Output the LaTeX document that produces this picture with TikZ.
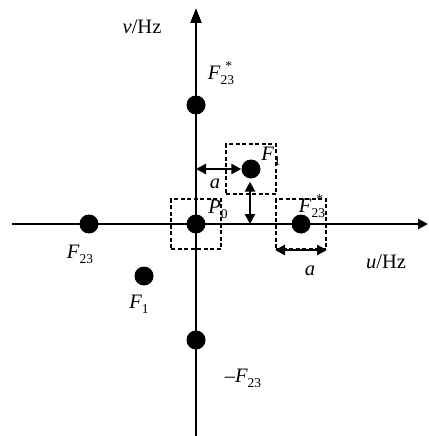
\documentclass[tikz,border=0pt]{standalone}
\usepackage{fontspec}
\setmainfont{Liberation Serif}
\usetikzlibrary{arrows.meta}
\newcommand{\lsub}[1]{\raisebox{-0.55ex}{\fontsize{13.5}{13.5}\selectfont #1}}
\newcommand{\lsubsup}[2]{\makebox[0pt][l]{\raisebox{1.0ex}{\fontsize{13.5}{13.5}\selectfont\hspace{0.35em}#2}}\raisebox{-0.55ex}{\fontsize{13.5}{13.5}\selectfont #1}}
\tikzset{
  axis/.style={line width=2.5pt},
  dot/.style={circle,fill=black,inner sep=0pt,minimum size=19pt},
  dbox/.style={draw,line width=2pt,dash pattern=on 4pt off 2.5pt,minimum size=50pt,inner sep=0pt},
  lab/.style={inner sep=0pt,font=\fontsize{20.5}{20.5}\selectfont},
  dim/.style={line width=2.5pt,{Triangle[length=10pt,width=10pt]}-{Triangle[length=10pt,width=10pt]}},
}
\begin{document}
\begin{tikzpicture}[x=1pt,y=-1pt]
\useasboundingbox (0,0) rectangle (428,436);
% axes
\coordinate (uL) at (12,224);
\coordinate (uR) at (428,224);
\coordinate (vB) at (196,436);
\coordinate (vT) at (196,8);
\draw[axis,-{Triangle[length=10pt,width=10pt]}] (uL) -- (uR);
\draw[axis,-{Triangle[length=15pt,width=11pt]}] (vB) -- (vT);
% dots
\node[dot] (P0) at (196,224) {};
\node[dot] (F23t) at (196,105) {};
\node[dot] (F1u) at (251,169) {};
\node[dot] (F23r) at (301,224) {};
\node[dot] (F23l) at (89,224) {};
\node[dot] (F1l) at (144,276) {};
\node[dot] (mF23) at (196,340) {};
% dashed boxes
\node[dbox] (b0) at (P0) {};
\node[dbox] (b1) at (F1u) {};
\node[dbox] (b2) at (F23r) {};
% dimension arrows
\coordinate (ha) at (196,169);
\coordinate (va) at (250,224);
\draw[dim] (ha) -- (F1u.west);
\draw[dim] (F1u.south -| va) ++(0,3) -- (va);
\draw[dim] (b2.south west) -- (b2.south east);
% labels
\node[lab] (lv) at (142,27) {\textit{v}/Hz};
\node[lab] (lu) at (386,262) {\textit{u}/Hz};
\node[lab] (lF23t) at (221,73) {\textit{F}\lsubsup{23}{*}};
\node[lab] (lF1u) at (271,156) {\textit{F}\lsub{1}};
\node[lab] (lP0) at (218,209) {\textit{P}\lsub{0}};
\node[lab] (lF23r) at (312,206) {\textit{F}\lsubsup{23}{*}};
\node[lab] (lF23l) at (80,254) {\textit{F}\lsub{23}};
\node[lab] (lF1l) at (139,304) {\textit{F}\lsub{1}};
\node[lab] (lmF23) at (243,378) {\textendash\textit{F}\lsub{23}};
\node[lab] (la1) at (215,184) {\textit{a}};
\node[lab] (la2) at (310,271) {\textit{a}};
\end{tikzpicture}
\end{document}
